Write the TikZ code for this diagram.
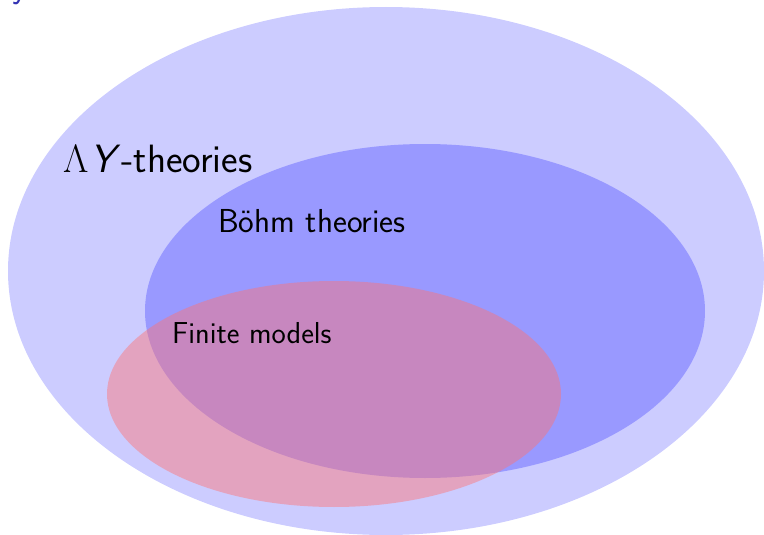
\RequirePackage{fix-cm}
\documentclass[tikz,border=0pt]{standalone}
\definecolor{structblue}{RGB}{51,51,179}
\begin{document}
\begin{tikzpicture}[x=1pt,y=-1pt,
  lbl/.style={inner sep=0pt, anchor=base west, font=\sffamily}]
\useasboundingbox (0,0) rectangle (764,535);
\begin{scope}
\clip (0,0) rectangle (764,535);
\fill[blue!20] (386,271) ellipse [x radius=378pt, y radius=264pt];
\fill[blue!40] (425,311) ellipse [x radius=280pt, y radius=167pt];
\fill[red!55, fill opacity=0.45] (334,394) ellipse [x radius=227pt, y radius=113pt];
\node[lbl, text=structblue, font=\sffamily\fontsize{36}{42}\selectfont] (ttl) at (12,-2) {y};
\end{scope}
\node[lbl, font=\sffamily\fontsize{39.5}{46}\selectfont] (ly) at (63,172) {$\Lambda$\kern0.06em\textit{Y}-theories};
\node[lbl, font=\sffamily\fontsize{33.2}{40}\selectfont] (bt) at (218,232) {Böhm theories};
\node[lbl, font=\sffamily\fontsize{30.3}{36}\selectfont] (fm) at (172,343) {Finite models};
\end{tikzpicture}
\end{document}
